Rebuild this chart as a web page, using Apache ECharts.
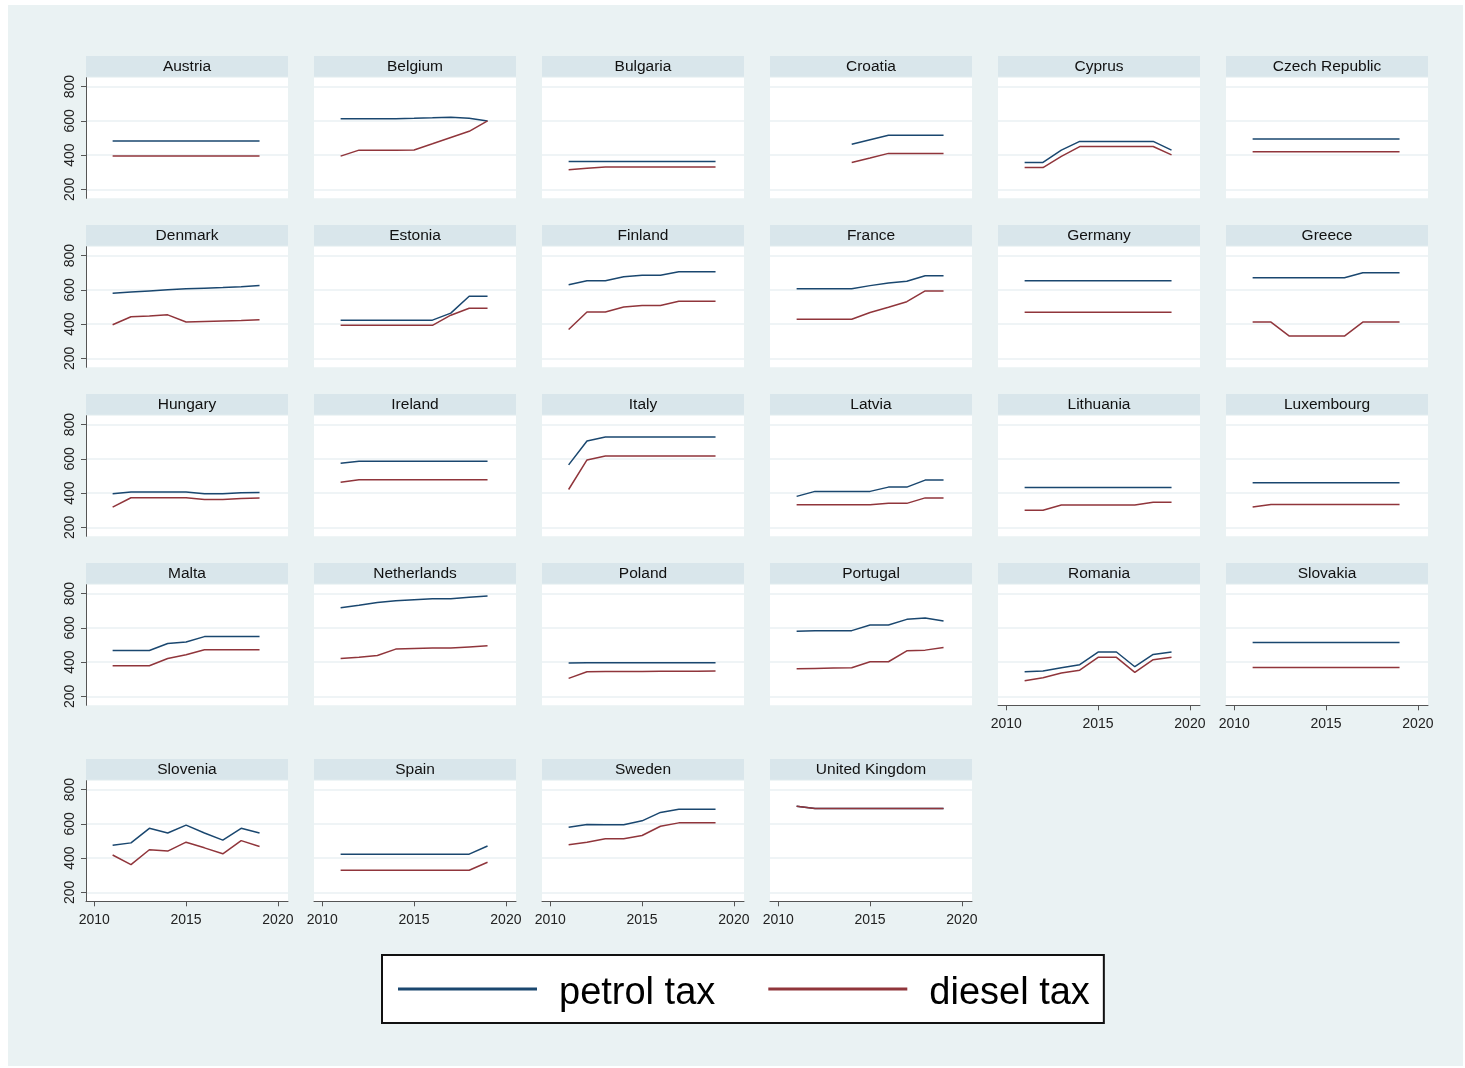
<!DOCTYPE html>
<html><head><meta charset="utf-8">
<script src="https://cdn.jsdelivr.net/npm/echarts@6/dist/echarts.min.js"></script>
<style>html,body{margin:0;padding:0;background:#fff}#c{width:1465px;height:1068px}</style>
</head><body><div id="c"></div>
<script>
// ---------------- data ----------------
const countries = ['Austria','Belgium','Bulgaria','Croatia','Cyprus','Czech Republic',
  'Denmark','Estonia','Finland','France','Germany','Greece',
  'Hungary','Ireland','Italy','Latvia','Lithuania','Luxembourg',
  'Malta','Netherlands','Poland','Portugal','Romania','Slovakia',
  'Slovenia','Spain','Sweden','United Kingdom'];
const years = [2011, 2012, 2013, 2014, 2015, 2016, 2017, 2018, 2019];
const petrol = [
  [482,482,482,482,482,482,482,482,482],
  [613,613,613,613,615,618,622,615,600],
  [363,363,363,363,363,363,363,363,363],
  [null,null,null,464,490,516,516,516,516],
  [357,357,429,480,480,480,480,480,429],
  [494,494,494,494,494,494,494,494,494],
  [580,587,594,601,606,610,614,619,626],
  [423,423,423,423,423,423,464,563,563],
  [630,653,653,677,686,686,706,706,706],
  [607,607,607,607,625,641,651,683,683],
  [654,654,654,654,654,654,654,654,654],
  [671,671,671,671,671,671,700,700,700],
  [396,406,406,406,406,396,396,402,404],
  [575,586,586,586,586,586,586,586,586],
  [565,705,728,728,728,728,728,728,728],
  [381,410,410,410,410,435,435,476,476],
  [433,433,433,433,433,433,433,433,433],
  [460,460,460,460,460,460,460,460,460],
  [468,468,468,509,518,549,549,549,549],
  [718,732,748,759,765,771,771,779,786],
  [395,396,396,396,396,396,396,396,396],
  [581,583,583,584,617,617,650,658,641],
  [344,348,367,385,459,459,373,445,459],
  [515,515,515,515,515,515,515,515,515],
  [475,489,574,547,593,547,505,574,547],
  [423,423,423,423,423,423,423,423,471],
  [581,597,595,595,618,667,686,686,686],
  [703,690,690,690,690,690,690,690,690]
];
const diesel = [
  [395,395,395,395,395,395,395,395,395],
  [394,429,429,429,430,466,503,539,600],
  [314,323,330,330,330,330,330,330,330],
  [null,null,null,357,383,410,410,410,410],
  [327,327,393,450,450,450,450,450,401],
  [420,420,420,420,420,420,420,420,420],
  [396,443,447,454,412,415,418,421,425],
  [393,393,393,393,393,393,452,493,493],
  [368,471,471,500,509,509,534,534,534],
  [428,428,428,428,468,499,531,594,594],
  [470,470,470,470,470,470,470,470,470],
  [412,412,330,330,330,330,412,412,412],
  [318,373,373,373,373,363,363,369,371],
  [464,478,478,478,478,478,478,478,478],
  [421,594,617,617,617,617,617,617,617],
  [332,332,332,332,332,340,340,372,372],
  [300,300,330,330,330,330,330,347,347],
  [319,333,333,333,333,333,333,333,333],
  [379,379,379,421,443,472,472,472,472],
  [421,429,439,476,480,482,482,489,495],
  [305,344,345,345,345,346,346,347,348],
  [361,363,365,367,402,402,466,470,485],
  [291,309,336,353,428,428,340,414,428],
  [368,368,368,368,368,368,368,368,368],
  [418,362,449,441,493,460,425,502,468],
  [329,329,329,329,329,329,329,329,376],
  [478,493,513,513,532,586,606,606,606],
  [703,690,690,690,690,690,690,690,690]
];
const xTicks = [2010, 2015, 2020];
const yTicks = [200, 400, 600, 800];
const seriesNames = ['petrol tax', 'diesel tax'];

// ---------------- layout ----------------
const FONT = "'Liberation Sans', Arial, sans-serif";
const PETROL_C = '#1a476f', DIESEL_C = '#90353b';
const COLS = 6, colStep = 228, plotLeft0 = 86, plotW = 202;
const rowTops = [56, 225, 394, 563, 759];
const stripH = 20.7, plotTopOff = 21.7, plotH = 120.6;
const xMin = 2009.55, xMax = 2020.55, yMin = 147.4, yMax = 852.6;
const xAxisPanels = [22, 23, 24, 25, 26, 27];

const grids = [], xAxes = [], yAxes = [], series = [];
const graphics = [{ type: 'rect', z: -100, shape: { x: 8, y: 5, width: 1455, height: 1061 }, style: { fill: '#eaf2f3' } }];

countries.forEach((name, i) => {
  const r = Math.floor(i / COLS), c = i % COLS;
  const left = plotLeft0 + c * colStep;
  const top = rowTops[r];
  const showX = xAxisPanels.includes(i);
  const showY = c === 0;
  graphics.push({ type: 'rect', z: 1, shape: { x: left, y: top, width: plotW, height: stripH }, style: { fill: '#d9e6eb' } });
  graphics.push({ type: 'text', z: 2, x: left + plotW / 2, y: top + stripH / 2 + 0.5,
    style: { text: name, font: '15.5px ' + FONT, fill: '#111', textAlign: 'center', textVerticalAlign: 'middle' } });
  grids.push({ left: left, top: top + plotTopOff, width: plotW, height: plotH, show: true,
    backgroundColor: '#ffffff', borderWidth: 0 });
  xAxes.push({ type: 'value', gridIndex: i, min: xMin, max: xMax,
    axisLine: { show: showX, lineStyle: { color: '#555', width: 1 } },
    axisTick: { show: showX, customValues: xTicks, length: 5, lineStyle: { color: '#555' } },
    axisLabel: { show: showX, customValues: xTicks, fontSize: 14, fontFamily: FONT, color: '#222', margin: 12,
      formatter: v => String(Math.round(v)) },
    splitLine: { show: false } });
  yAxes.push({ type: 'value', gridIndex: i, min: yMin, max: yMax,
    axisLine: { show: showY, lineStyle: { color: '#555', width: 1 } },
    axisTick: { show: showY, customValues: yTicks, length: 5, lineStyle: { color: '#555' } },
    axisLabel: { show: showY, customValues: yTicks, rotate: 90, fontSize: 14, fontFamily: FONT, color: '#222', margin: 9,
      formatter: v => String(Math.round(v)) },
    splitLine: { show: true, lineStyle: { color: '#eaf1f3', width: 1.5 } } });
  [[petrol, PETROL_C, 0], [diesel, DIESEL_C, 1]].forEach(([arr, col, k]) => {
    series.push({ type: 'line', name: seriesNames[k], xAxisIndex: i, yAxisIndex: i,
      data: years.map((y, j) => [y, arr[i][j]]).filter(d => d[1] != null),
      showSymbol: false, symbol: 'none', silent: true,
      lineStyle: { color: col, width: 1.5 }, itemStyle: { color: col }, z: 2 + k });
  });
});

const chart = echarts.init(document.getElementById('c'), null, { renderer: 'canvas' });
chart.setOption({
  animation: false,
  backgroundColor: '#ffffff',
  grid: grids, xAxis: xAxes, yAxis: yAxes, series: series,
  graphic: graphics,
  legend: {
    data: seriesNames, left: 382, top: 955, orient: 'horizontal', selectedMode: false,
    backgroundColor: '#ffffff', borderColor: '#111', borderWidth: 2, borderRadius: 0,
    padding: [10, 14, 10, 16], itemWidth: 139, itemHeight: 3, itemGap: 53, icon: 'rect',
    formatter: '{t|{name}}',
    textStyle: { fontSize: 38, fontFamily: FONT, color: '#000', padding: [0, 0, 0, 17],
      rich: { t: { fontSize: 38, fontFamily: FONT, color: '#000', lineHeight: 54, padding: [10, 0, 0, 0] } } }
  }
});
</script></body></html>
